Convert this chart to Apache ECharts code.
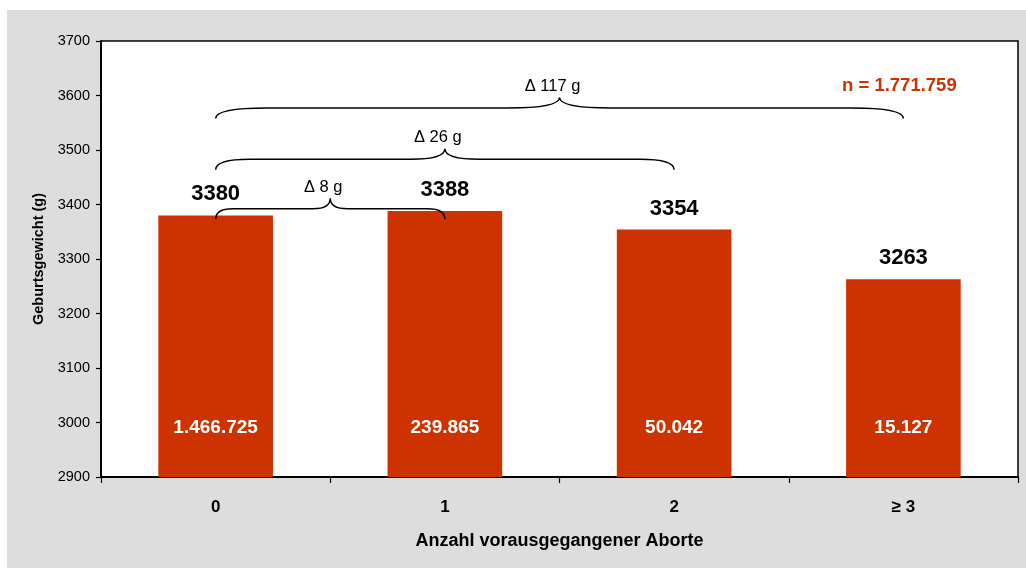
<!DOCTYPE html>
<html>
<head>
<meta charset="utf-8">
<script src="https://cdn.jsdelivr.net/npm/echarts@6/dist/echarts.min.js"></script>
<style>
  html, body { margin: 0; padding: 0; background: #ffffff; }
  #bg { position: absolute; left: 7px; top: 10px; right: 0; bottom: 0; background: #dddddd; }
  #chart { position: absolute; left: 0; top: 0; width: 1026px; height: 568px; }
</style>
</head>
<body>
<div id="bg"></div>
<div id="chart"></div>
<script>
// ---- data ----
const categories = ['0', '1', '2', '\u2265 3'];
const weights = [3380, 3388, 3354, 3263];
const counts = ['1.466.725', '239.865', '50.042', '15.127'];
const yTicks = { min: 2900, max: 3700, interval: 100 };
const braceFrom = [0, 0, 0];
const braceTo = [1, 2, 3];
const braceLevel = [3392, 3483, 3577];
const braceLabels = ['\u0394 8 g', '\u0394 26 g', '\u0394 117 g'];
const totalLabel = 'n = 1.771.759';

const RED = '#cc3300';
const FONT = 'Liberation Sans, Arial, sans-serif';

const braceData = braceFrom.map((f, i) => [f, braceTo[i], braceLevel[i]]);

function renderBrace(params, api) {
  const i0 = api.value(0), i1 = api.value(1), lv = api.value(2);
  const p0 = api.coord([i0, lv]);
  const p1 = api.coord([i1, lv]);
  const x0 = p0[0], x1 = p1[0], y = p0[1];
  const h = 10.5;
  const xm = (x0 + x1) / 2;
  const r = (x1 - x0) * 0.075;
  const d = `M${x0},${y + h} Q${x0},${y} ${x0 + r},${y} L${xm - r},${y} Q${xm},${y} ${xm},${y - h} ` +
            `Q${xm},${y} ${xm + r},${y} L${x1 - r},${y} Q${x1},${y} ${x1},${y + h}`;
  return {
    type: 'group',
    children: [
      { type: 'path', shape: { pathData: d }, style: { stroke: '#000', lineWidth: 1.5, fill: null } },
      { type: 'text', x: xm - 7, y: y - h - 11,
        style: { text: braceLabels[params.dataIndex], fill: '#000', font: '16.5px ' + FONT,
                 align: 'center', verticalAlign: 'middle' } }
    ]
  };
}

const chart = echarts.init(document.getElementById('chart'), null, { renderer: 'canvas' });
chart.setOption({
  backgroundColor: 'transparent',
  animation: false,
  grid: { left: 101, right: 8, top: 41, bottom: 91, show: true, backgroundColor: '#ffffff',
          borderColor: '#000', borderWidth: 1.5 },
  xAxis: {
    type: 'category',
    data: categories,
    name: 'Anzahl vorausgegangener Aborte',
    nameLocation: 'middle',
    nameGap: 55,
    nameTextStyle: { fontFamily: FONT, fontWeight: 'bold', fontSize: 18, color: '#000' },
    axisLine: { lineStyle: { color: '#000', width: 2 } },
    axisTick: { show: true, length: 6, lineStyle: { color: '#000', width: 1.2 } },
    axisLabel: { margin: 22, fontFamily: FONT, fontWeight: 'bold', fontSize: 17, color: '#000' },
    splitLine: { show: false }
  },
  yAxis: {
    type: 'value',
    min: yTicks.min, max: yTicks.max, interval: yTicks.interval,
    name: 'Geburtsgewicht (g)',
    nameLocation: 'middle',
    nameGap: 49,
    nameRotate: 90,
    nameTextStyle: { fontFamily: FONT, fontWeight: 'bold', fontSize: 14.5, color: '#000' },
    axisLine: { show: true, lineStyle: { color: '#000', width: 2 } },
    axisTick: { show: true, length: 5, lineStyle: { color: '#000', width: 1.2 } },
    axisLabel: { margin: 11, fontFamily: FONT, fontSize: 14.5, color: '#000',
                 formatter: v => String(v) },
    splitLine: { show: false }
  },
  series: [
    {
      type: 'bar',
      data: weights,
      barWidth: '50%',
      itemStyle: { color: RED },
      label: { show: true, position: 'top', distance: 10, color: '#000',
               fontFamily: FONT, fontWeight: 'bold', fontSize: 22 },
      z: 2
    },
    {
      type: 'bar',
      data: weights,
      barWidth: '50%',
      barGap: '-100%',
      itemStyle: { color: 'transparent' },
      label: { show: true, position: 'insideBottom', distance: 40, color: '#fff',
               fontFamily: FONT, fontWeight: 'bold', fontSize: 19,
               formatter: p => counts[p.dataIndex] },
      z: 3
    },
    {
      type: 'custom',
      data: braceData,
      encode: { x: [0, 1], y: 2 },
      renderItem: renderBrace,
      z: 5,
      silent: true
    }
  ],
  graphic: [
    { type: 'text', left: 842, top: 76,
      style: { text: totalLabel, fill: RED, font: 'bold 18.5px ' + FONT } }
  ]
});
</script>
</body>
</html>
